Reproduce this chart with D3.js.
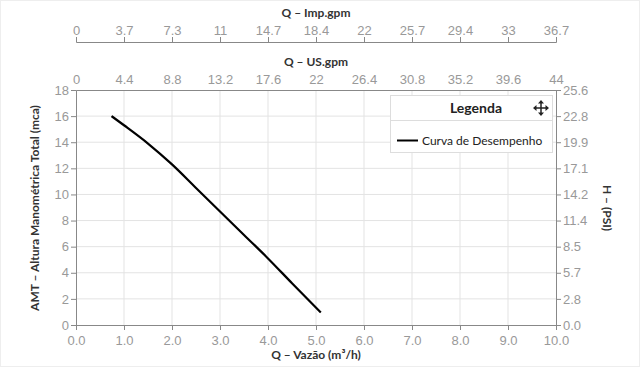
<!DOCTYPE html>
<html>
<head>
<meta charset="utf-8">
<script src="https://cdn.jsdelivr.net/npm/d3@7"></script>
<style>
  body { margin: 0; background: #fff; }
  svg { display: block; font-family: Lato, "Open Sans", sans-serif; }
  .tick text { fill: #999; font-size: 13px; }
  .axis path, .axis line { stroke: #888; }
  .title { fill: #333; font-size: 12px; font-weight: bold; }
</style>
</head>
<body>
<div id="chart"></div>
<script>
// curva de desempenho
const vazao = [0.74, 1.0, 1.5, 2.0, 2.5, 3.0, 3.5, 4.0, 4.5, 5.1];
const altura = [16.0, 15.3, 13.9, 12.3, 10.5, 8.7, 6.9, 5.1, 3.2, 0.95];

const xTicks = [0, 1, 2, 3, 4, 5, 6, 7, 8, 9, 10];
const yTicks = [0, 2, 4, 6, 8, 10, 12, 14, 16, 18];
const impLabels = ['0', '3.7', '7.3', '11', '14.7', '18.4', '22', '25.7', '29.4', '33', '36.7'];
const usLabels = ['0', '4.4', '8.8', '13.2', '17.6', '22', '26.4', '30.8', '35.2', '39.6', '44'];
const psiLabels = ['0.0', '2.8', '5.7', '8.5', '11.4', '14.2', '17.1', '19.9', '22.8', '25.6'];

const width = 640, height = 367;
const plotLeft = 76, plotRight = 556, plotTop = 90, plotBottom = 325;

const svg = d3.select('#chart').append('svg')
  .attr('width', width).attr('height', height);

// borda leve
svg.append('rect').attr('x', 0.5).attr('y', 0.5).attr('width', width - 1).attr('height', height - 1)
  .attr('fill', 'none').attr('stroke', '#eee');

const x = d3.scaleLinear().domain([0, 10]).range([plotLeft, plotRight]);
const y = d3.scaleLinear().domain([0, 18]).range([plotBottom, plotTop]);

// grade
svg.append('g').selectAll('line').data(xTicks.slice(1, -1)).enter().append('line')
  .attr('x1', d => x(d)).attr('x2', d => x(d)).attr('y1', plotTop).attr('y2', plotBottom)
  .attr('stroke', '#e3e3e3');
svg.append('g').selectAll('line').data(yTicks.slice(1, -1)).enter().append('line')
  .attr('y1', d => y(d)).attr('y2', d => y(d)).attr('x1', plotLeft).attr('x2', plotRight)
  .attr('stroke', '#e3e3e3');

// eixos
svg.append('g').attr('class', 'axis').attr('transform', `translate(0,${plotBottom})`)
  .call(d3.axisBottom(x).tickValues(xTicks).tickFormat(d3.format('.1f')).tickSizeOuter(0).tickSize(5))
  .selectAll('text').attr('dy', '0.95em');

svg.append('g').attr('class', 'axis').attr('transform', `translate(0,${plotTop})`)
  .call(d3.axisTop(x).tickValues(xTicks).tickFormat((d, i) => usLabels[i]).tickSizeOuter(0).tickSize(0))
  .selectAll('text').attr('dy', '-0.2em');

svg.append('g').attr('class', 'axis').attr('transform', `translate(0,42)`)
  .call(d3.axisTop(x).tickValues(xTicks).tickFormat((d, i) => impLabels[i]).tickSizeOuter(0).tickSize(5))
  .selectAll('text').attr('dy', '0.1em');

svg.append('g').attr('class', 'axis').attr('transform', `translate(${plotLeft},0)`)
  .call(d3.axisLeft(y).tickValues(yTicks).tickSizeOuter(0).tickSize(5).tickPadding(2));

svg.append('g').attr('class', 'axis').attr('transform', `translate(${plotRight},0)`)
  .call(d3.axisRight(y).tickValues(yTicks).tickFormat((d, i) => psiLabels[i]).tickSizeOuter(0).tickSize(5).tickPadding(2));

// títulos
svg.append('text').attr('class', 'title').attr('x', 316).attr('y', 17).attr('text-anchor', 'middle').text('Q – Imp.gpm');
svg.append('text').attr('class', 'title').attr('x', 316).attr('y', 66).attr('text-anchor', 'middle').text('Q – US.gpm');
svg.append('text').attr('class', 'title').attr('x', 316).attr('y', 359).attr('text-anchor', 'middle').text('Q – Vazão (m³/h)');
svg.append('text').attr('class', 'title').attr('transform', 'translate(39,208) rotate(-90)')
  .attr('text-anchor', 'middle').text('AMT – Altura Manométrica Total (mca)');
svg.append('text').attr('class', 'title').attr('transform', 'translate(603,208) rotate(90)')
  .attr('text-anchor', 'middle').text('H – (PSI)');

// curva
const line = d3.line()
  .curve(d3.curveMonotoneX)
  .x((d, i) => x(vazao[i]))
  .y((d, i) => y(altura[i]));

svg.append('path')
  .attr('d', line(vazao))
  .attr('fill', 'none')
  .attr('stroke', '#000')
  .attr('stroke-width', 2.2);

// legenda
const lg = svg.append('g').attr('transform', 'translate(390,95)');
lg.append('rect').attr('x', 0.5).attr('y', 0.5).attr('width', 162).attr('height', 57)
  .attr('fill', '#fff').attr('stroke', '#ddd');
lg.append('line').attr('x1', 0.5).attr('x2', 162.5).attr('y1', 25.5).attr('y2', 25.5).attr('stroke', '#ddd');
lg.append('text').attr('x', 86).attr('y', 18).attr('text-anchor', 'middle')
  .attr('font-size', 14).attr('font-weight', 'bold').attr('fill', '#222').text('Legenda');
// ícone de mover
const mv = lg.append('g').attr('transform', 'translate(151,13)').attr('stroke', '#222').attr('fill', '#222');
mv.append('line').attr('x1', -6).attr('x2', 6).attr('y1', 0).attr('y2', 0).attr('stroke-width', 1.5);
mv.append('line').attr('x1', 0).attr('x2', 0).attr('y1', -6).attr('y2', 6).attr('stroke-width', 1.5);
mv.append('path').attr('stroke', 'none').attr('d', 'M0,-8L-3,-4.5L3,-4.5Z M0,8L-3,4.5L3,4.5Z M-8,0L-4.5,-3L-4.5,3Z M8,0L4.5,-3L4.5,3Z');

lg.append('line').attr('x1', 7).attr('x2', 28).attr('y1', 45.5).attr('y2', 45.5).attr('stroke', '#000').attr('stroke-width', 2);
lg.append('text').attr('x', 32).attr('y', 49.5).attr('font-size', 12).attr('fill', '#222').text('Curva de Desempenho');
</script>
</body>
</html>
